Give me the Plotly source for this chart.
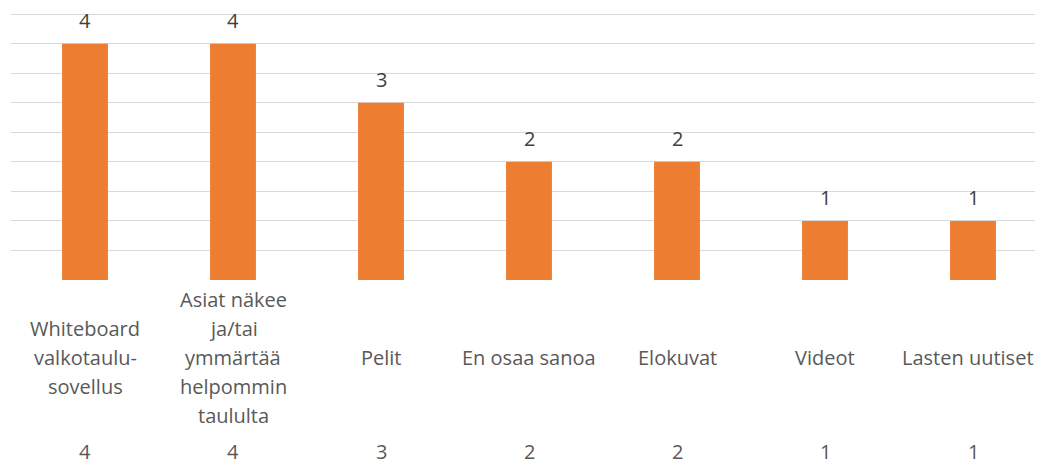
import plotly.graph_objects as go

categories = ["Whiteboard<br>valkotaulu-<br>sovellus",
              "Asiat näkee<br>ja/tai<br>ymmärtää<br>helpommin<br>taululta",
              "Pelit", "En osaa sanoa", "Elokuvat", "Videot", "Lasten uutiset"]
values = [4, 4, 3, 2, 2, 1, 1]
grid_vals = [0.5, 1, 1.5, 2, 2.5, 3, 3.5, 4, 4.5]

# page offset (default body margin)
OFF = 8
W, H = 1043 - OFF, 465 - OFF
top_px, base_px = 14.5, 280          # page coordinates
ymax = 4.52
unit = (base_px - top_px) / 4.5
plot_top = base_px - ymax * unit
plot_h = base_px - plot_top

def py(p):
    return (base_px - p) / plot_h

FONT = "Open Sans"
FS = 20
fig = go.Figure()
fig.add_trace(go.Bar(x=list(range(len(categories))), y=values,
                     marker=dict(color="#ED7D31", line=dict(width=0)),
                     hoverinfo="skip"))

anns = []
last = len(categories) - 1
for i, (c, v) in enumerate(zip(categories, values)):
    anns.append(dict(x=i, y=v, yshift=24, text=str(v), showarrow=False,
                     yanchor="middle", xanchor="center", height=16, valign="middle",
                     borderpad=0,
                     font=dict(family=FONT, size=FS, color="#404040")))
    lines = c.split("<br>")
    n = len(lines)
    for k, ln in enumerate(lines):
        yp = 357 + (k - (n - 1) / 2) * 29
        anns.append(dict(x=i, y=py(yp), yref="paper", text=ln, showarrow=False,
                         yanchor="middle", xanchor="center",
                         xshift=-5 if i == last else 0,
                         font=dict(family=FONT, size=FS, color="#595959")))
    anns.append(dict(x=i, y=py(451), yref="paper", text=str(v), showarrow=False,
                     yanchor="middle", xanchor="center", height=16, valign="middle",
                     borderpad=0,
                     font=dict(family=FONT, size=FS, color="#595959")))

fig.update_layout(
    width=W, height=H,
    margin=dict(l=11 - OFF, r=0, t=plot_top - OFF, b=H - (base_px - OFF)),
    paper_bgcolor="white", plot_bgcolor="white",
    bargap=0.69, showlegend=False,
    annotations=anns,
    xaxis=dict(range=[-0.5, 6.5 - 4 / 148], showticklabels=False, showgrid=False,
               zeroline=False, showline=False, ticks=""),
    yaxis=dict(range=[0, ymax], tickvals=grid_vals, showticklabels=False,
               showgrid=True, gridcolor="#D9D9D9", gridwidth=1.4,
               zeroline=False, showline=False, ticks=""),
)
fig.write_html("out.html")
